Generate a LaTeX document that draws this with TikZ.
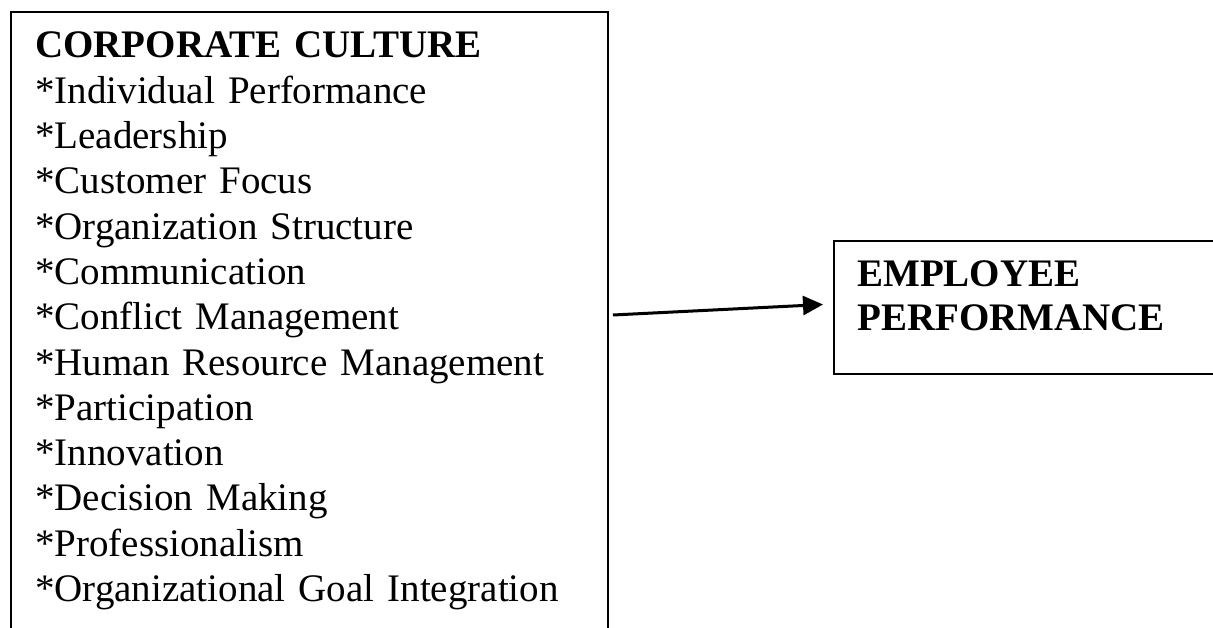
\documentclass[tikz,border=0pt]{standalone}
\usepackage{fontspec}
\setmainfont{Liberation Serif}
\usepackage{tikz}
\usetikzlibrary{arrows.meta, positioning, calc}
\tikzset{
	frameBox/.style={draw=black, line width=2pt, inner sep=0pt, anchor=north west},
	listText/.style={font=\fontsize{39}{45.3}\selectfont, text width=560pt, align=left,
		inner sep=0pt, anchor=base west},
	linkArrow/.style={line width=3pt, -{Triangle[length=20pt, width=19pt]}}
}

\begin{document}
\begin{tikzpicture}[x=1pt, y=-1pt]
	\useasboundingbox (0,0) rectangle (1213,628);
	\clip (0,0) rectangle (1213,628);
	\fill[white] (0,0) rectangle (1213,628);
	% left box: corporate culture and its dimensions
	\node[frameBox, minimum width=597pt, minimum height=700pt] (cultureBox) at (10,11) {};
	\node[listText] (culture) at (35,58)
	{\textbf{CORPORATE CULTURE}\\
		{}*Individual Performance\\
		{}*Leadership\\
		{}*Customer Focus\\
		{}*Organization Structure\\
		{}*Communication\\
		{}*Conflict Management\\
		{}*Human Resource Management\\
		{}*Participation\\
		{}*Innovation\\
		{}*Decision Making\\
		{}*Professionalism\\
		{}*Organizational Goal Integration};
	% right box: employee performance
	\node[frameBox, minimum width=500pt, minimum height=133pt] (perfBox) at (833,240) {};
	\node[listText, text width=340pt, font=\fontsize{39}{43.5}\selectfont\bfseries] (perf) at (857,287)
	{EMPLOYEE\\PERFORMANCE};
	% link
	\coordinate (src) at ($(cultureBox.north east)+(4,304)$);
	\draw[linkArrow, shorten >=10pt] (src) -- ([yshift=3.5pt]perfBox.west);
\end{tikzpicture}
\end{document}
